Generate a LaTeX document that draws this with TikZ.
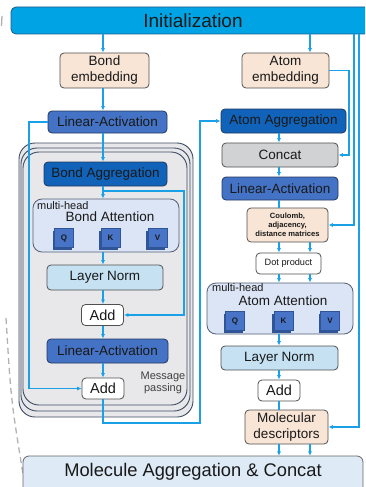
\documentclass[tikz,border=0pt]{standalone}
\usepackage{fontspec}
\setmainfont{Liberation Sans}
\usetikzlibrary{arrows.meta,shadows}
\definecolor{lnblue}{RGB}{25,160,230}
\definecolor{initc}{RGB}{0,164,228}
\definecolor{initedge}{RGB}{30,90,140}
\definecolor{peach}{RGB}{248,229,214}
\definecolor{boxedge}{RGB}{80,80,80}
\definecolor{linact}{RGB}{68,114,196}
\definecolor{blueedge}{RGB}{35,55,95}
\definecolor{aggc}{RGB}{17,99,186}
\definecolor{concatc}{RGB}{208,210,211}
\definecolor{lnc}{RGB}{197,225,242}
\definecolor{attc}{RGB}{220,229,245}
\definecolor{attedge}{RGB}{80,95,120}
\definecolor{mpfill}{RGB}{232,232,234}
\definecolor{mpedge}{RGB}{60,75,100}
\definecolor{maggc}{RGB}{222,234,246}
\definecolor{txt}{RGB}{25,25,25}
\definecolor{qkback}{RGB}{47,85,151}
\definecolor{qkfront}{RGB}{72,116,200}
\begin{document}
\begin{tikzpicture}[x=1pt,y=-1pt,
  box/.style={draw=boxedge, rounded corners=4pt, inner sep=0pt, align=center, text=txt,
    font=\fontsize{13.5}{16}\selectfont, line width=0.8pt},
  bluebox/.style={box, draw=blueedge},
  addbox/.style={box, fill=white, minimum width=42pt, minimum height=21pt, font=\fontsize{14.5}{16}\selectfont},
  attbox/.style={box, fill=attc, draw=attedge, rounded corners=9pt},
  mh/.style={anchor=west, inner sep=0pt, text=txt, font=\fontsize{11}{13}\selectfont},
  ttl/.style={inner sep=0pt, text=txt, font=\fontsize{13.5}{16}\selectfont},
  qk/.style={draw=qkback, line width=0.4pt, fill=qkfront, minimum size=19pt, inner sep=0pt, text=txt,
    font=\bfseries\fontsize{8}{9}\selectfont,
    drop shadow={shadow xshift=-2pt, shadow yshift=-2pt, fill=qkback, opacity=1}},
  mp/.style={draw=mpedge, fill=mpfill, line width=0.9pt, rounded corners=16pt},
  arr/.style={draw=lnblue, line width=1.2pt, -{Latex[length=4.5pt,width=4pt]}},
  ln/.style={draw=lnblue, line width=1.2pt}]
\useasboundingbox (0,0) rectangle (365,487);
\clip (0,0) rectangle (365,487);

% left grey dashed guide
\draw[gray!60, line width=1.3pt, dash pattern=on 6pt off 4pt] (6,318) .. controls (11,400) .. (23,474);
\draw[gray!60, line width=1.3pt] (2,16) -- (1.5,26);

% message passing stack
\draw[mp] (19,143) rectangle (193,417);
\draw[mp] (21,148) rectangle (190,411);
\draw[mp] (23,152) rectangle (187,405);

% molecule aggregation box (extends below the frame)
\draw[draw=gray!80!black, fill=maggc, line width=0.8pt, rounded corners=6pt] (23,456) rectangle (363,500);

% top bar
\node[box, fill=initc, draw=initedge, rounded corners=5pt, minimum width=364pt, minimum height=27pt,
  font=\fontsize{19}{22}\selectfont] (init) at (193,20.5) {Initialization};

% left column
\node[box, fill=peach, minimum width=89pt, minimum height=35pt] (bemb) at (104.5,70.5) {Bond\\embedding};
\node[bluebox, fill=linact, minimum width=119pt, minimum height=22pt] (la1) at (107.5,122) {Linear-Activation};
\node[bluebox, fill=aggc, minimum width=123pt, minimum height=24pt] (bagg) at (105.5,174) {Bond Aggregation};
\node[attbox, minimum width=146pt, minimum height=53pt] (batt) at (106,225.5) {};
\node[mh] (bmh) at (37,206) {multi-head};
\node[ttl] (btitle) at (110,217) {Bond Attention};
\node[qk] (bq) at (64,238) {Q};
\node[qk] (bk) at (110.5,238) {K};
\node[qk] (bv) at (157.5,238) {V};
\node[box, fill=lnc, minimum width=116pt, minimum height=25pt] (bln) at (105,277.5) {Layer Norm};
\node[addbox] (add1) at (102.5,315) {Add};
\node[bluebox, fill=linact, minimum width=121pt, minimum height=24pt] (la2) at (107.5,351) {Linear-Activation};
\node[addbox] (add2) at (103,388.5) {Add};
\node[align=center, inner sep=0pt, text=black!75, font=\fontsize{11}{12.5}\selectfont] (mptext) at (163,383) {Message\\passing};

% right column
\node[box, fill=peach, minimum width=87pt, minimum height=35pt] (aemb) at (285.5,70.5) {Atom\\embedding};
\node[bluebox, fill=aggc, minimum width=125pt, minimum height=24pt] (aagg) at (283.5,121) {Atom Aggregation};
\node[box, fill=concatc, minimum width=116pt, minimum height=24pt] (concat) at (280,155) {Concat};
\node[bluebox, fill=linact, minimum width=116pt, minimum height=23pt] (la3) at (280,188.5) {Linear-Activation};
\node[box, fill=peach, minimum width=81pt, minimum height=34pt, font=\bfseries\fontsize{7.6}{9}\selectfont] (coul) at (287.5,225) {Coulomb,\\adjacency,\\distance matrices};
\node[box, fill=white, minimum width=65pt, minimum height=21pt, font=\fontsize{9.2}{11}\selectfont] (dot) at (288.5,263.5) {Dot product};
\node[attbox, minimum width=146pt, minimum height=51pt] (aatt) at (280,308.5) {};
\node[mh] (amh) at (212,288) {multi-head};
\node[ttl] (atitle) at (283,301) {Atom Attention};
\node[qk] (aq) at (235,321) {Q};
\node[qk] (ak) at (283.5,321) {K};
\node[qk] (av) at (330,321) {V};
\node[box, fill=lnc, minimum width=117pt, minimum height=24pt] (aln) at (279.5,358) {Layer Norm};
\node[addbox] (add3) at (279,390.5) {Add};
\node[box, fill=peach, minimum width=83pt, minimum height=34pt] (mdesc) at (286.5,427) {Molecular\\descriptors};
\node[inner sep=0pt, minimum width=340pt, minimum height=31pt, text=txt, font=\fontsize{18.3}{21}\selectfont] (magg) at (193,471.5) {Molecule Aggregation \& Concat};

% connectors, left
\draw[arr] (103,0 |- init.south) -- (103,0 |- bemb.north);
\draw[arr] (103,0 |- bemb.south) -- (103,0 |- la1.north);
\draw[arr] (103,0 |- la1.south) -- (103,0 |- bagg.north);
\draw[arr] (103,0 |- bagg.south) -- (103,0 |- batt.north);
\coordinate (br) at (103,191);
\draw[arr] (br) -- (184,191) |- (add1.east);
\draw[arr] (103,0 |- batt.south) -- (103,0 |- bln.north);
\draw[arr] (103,0 |- bln.south) -- (103,0 |- add1.north);
\draw[arr] (103,0 |- add1.south) -- (103,0 |- la2.north);
\draw[arr] (103,0 |- la2.south) -- (103,0 |- add2.north);
\draw[arr] (la1.west) -- (29,0 |- la1.west) |- (add2.west);
\draw[arr] (103,0 |- add2.south) -- (103,423) -- (200,423) |- (aagg.west);

% connectors, right
\draw[arr] (310,0 |- init.south) -- (310,0 |- aemb.north);
\draw[arr] (aemb.east) -- (349,0 |- aemb.east) |- (concat.east);
\draw[arr] (354,0 |- init.south) |- (coul.east);
\draw[arr] (359,0 |- init.south) |- (mdesc.east);
\draw[arr] (279,0 |- aagg.south) -- (279,0 |- concat.north);
\draw[arr] (279,0 |- concat.south) -- (279,0 |- la3.north);
\draw[ln] (279,0 |- la3.south) -- (279,0 |- coul.north);
\draw[arr] (279,0 |- coul.south) -- (279,0 |- dot.north);
\draw[arr] (310,0 |- coul.south) -- (310,0 |- dot.north);
\draw[arr] (279,0 |- dot.south) -- (279,0 |- aatt.north);
\draw[arr] (310,0 |- dot.south) -- (310,0 |- aatt.north);
\draw[arr] (279,0 |- aatt.south) -- (279,0 |- aln.north);
\draw[arr] (279,0 |- aln.south) -- (279,0 |- add3.north);
\draw[ln] (279,0 |- add3.south) -- (279,0 |- mdesc.north);
\draw[arr] (279,0 |- mdesc.south) -- (279,0 |- magg.north);
\draw[arr] (310,0 |- mdesc.south) -- (310,0 |- magg.north);
\end{tikzpicture}
\end{document}
